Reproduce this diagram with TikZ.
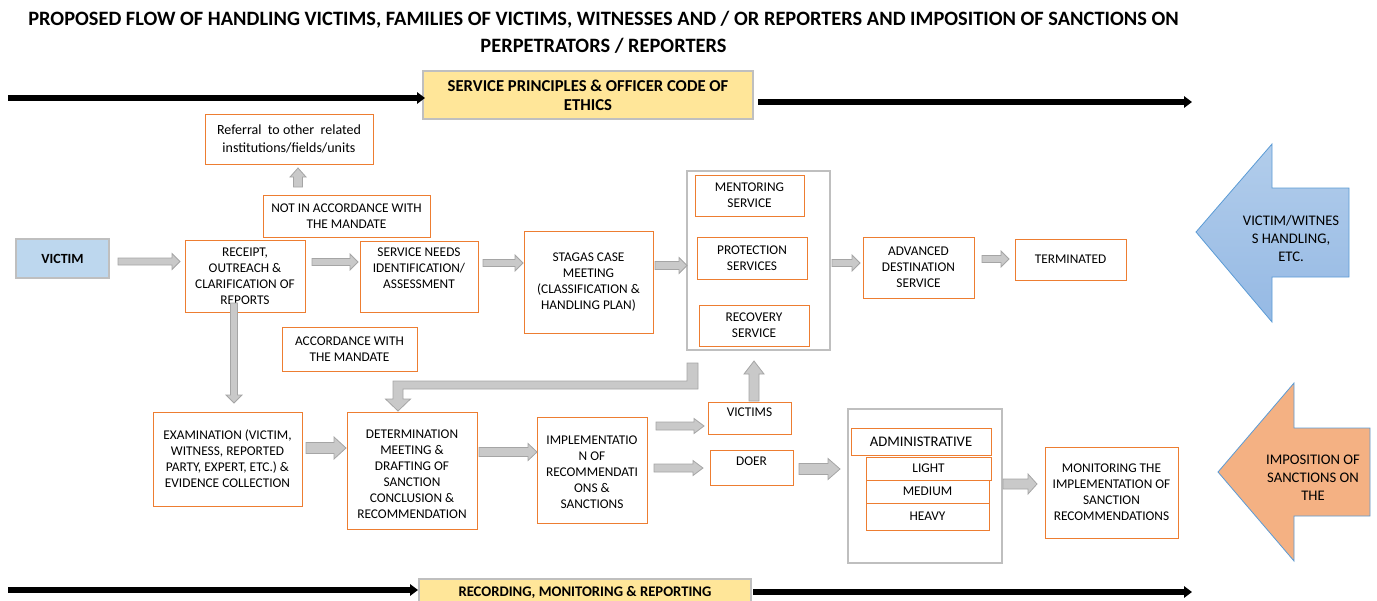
\documentclass[tikz,border=0pt]{standalone}
\usepackage{fontspec}
\setmainfont{Carlito}
\usetikzlibrary{calc,arrows.meta}
\definecolor{obord}{HTML}{ED7D31}
\definecolor{gbord}{HTML}{BFBFBF}
\definecolor{yfill}{HTML}{FFE699}
\definecolor{bfill}{HTML}{BDD7EE}
\definecolor{afill}{HTML}{C9C9C9}
\definecolor{aline}{HTML}{A5A5A5}
\definecolor{bbtop}{HTML}{B2CDEB}
\definecolor{bbbot}{HTML}{95B9E4}
\definecolor{bbline}{HTML}{5B9BD5}
\definecolor{bigorange}{HTML}{F4B183}
\newcommand\mvup[2]{\raisebox{0pt}[\height][\dimexpr\depth+#1\relax]{\begin{tabular}{@{}c@{}}#2\end{tabular}}}
\newcommand\mvdn[2]{\raisebox{0pt}[\dimexpr\height+#1\relax][\depth]{\begin{tabular}{@{}c@{}}#2\end{tabular}}}
\newcommand\bx[7][]{%
  \node[#1, minimum width={(#5-#3)*0.75pt}, minimum height={(#6-#4)*0.75pt}] (#2) at ({(#3+#5)/2},{(#4+#6)/2}) {#7};}
\newcommand\blk[5]{%
  \coordinate (bkA) at (#1);
  \coordinate (bkB) at (#2);
  \coordinate (bkC) at ($(bkB)!#5*0.75pt!(bkA)$);
  \draw[blockarrow] ($(bkA)!#3*0.75pt!90:(bkB)$) -- ($(bkC)!#3*0.75pt!-90:(bkA)$) -- ($(bkC)!#4*0.75pt!-90:(bkA)$) -- (bkB) -- ($(bkC)!#4*0.75pt!90:(bkA)$) -- ($(bkC)!#3*0.75pt!90:(bkA)$) -- ($(bkA)!#3*0.75pt!-90:(bkB)$) -- cycle;}
\tikzset{
  ob/.style={draw=obord, line width=0.65pt, fill=white, align=center, inner sep=1pt, outer sep=0pt, font=\fontsize{10}{12}\selectfont},
  gb/.style={draw=gbord, line width=2pt, inner sep=0pt, outer sep=0pt},
  yb/.style={draw=gbord, line width=0.8pt, fill=yfill, align=center, inner sep=1pt, outer sep=0pt, font=\bfseries\fontsize{11}{14.5}\selectfont},
  vb/.style={draw=gbord, line width=0.8pt, fill=bfill, inner sep=1pt, outer sep=0pt, font=\bfseries\fontsize{10.5}{12}\selectfont},
  blockarrow/.style={draw=aline, fill=afill, line width=0.6pt},
  bigline/.style={line width=4.4pt, -{Triangle[length=6pt,width=8.5pt]}},
  bigtxt/.style={align=center, inner sep=0pt, font=\fontsize{11}{13.5}\selectfont},
  titletxt/.style={align=center, inner sep=0pt, font=\bfseries\fontsize{15.3}{20.25}\selectfont}
}
\begin{document}
\begin{tikzpicture}[x=0.75pt,y=-0.75pt]
\useasboundingbox (0,0) rectangle (1377,600);
% title
\node[titletxt] (title) at (603.5,32.5) {PROPOSED FLOW OF HANDLING VICTIMS, FAMILIES OF VICTIMS, WITNESSES AND / OR REPORTERS AND IMPOSITION OF SANCTIONS ON\\PERPETRATORS / REPORTERS};
% yellow bands
\bx[yb, font=\bfseries\fontsize{12.5}{14.5}\selectfont]{sp}{423}{71}{753}{119}{SERVICE PRINCIPLES \& OFFICER CODE OF\\ETHICS}
\bx[yb]{rmr}{419}{579}{751}{605}{RECORDING, MONITORING \& REPORTING}
\coordinate (tl) at (8,98);
\coordinate (tr) at (1192,102);
\coordinate (bl) at (8,590);
\coordinate (br) at (1192,592);
\draw[bigline] (tl) -- ($(sp.west)+(2,3)$);
\draw[bigline] ($(sp.east)+(5,7)$) -- (tr);
\draw[bigline] (bl) -- ($(rmr.west)+(-1,-2)$);
\draw[bigline] ($(rmr.east)+(2,0)$) -- (br);
% upper row
\bx[vb]{victim}{16}{239}{109}{278}{VICTIM}
\bx[ob]{receipt}{185}{240}{305}{312}{RECEIPT,\\OUTREACH \&\\CLARIFICATION OF\\REPORTS}
\bx[ob]{svc}{360}{241}{478}{312}{\mvup{11pt}{SERVICE NEEDS\\IDENTIFICATION/\\ASSESSMENT}}
\bx[ob]{stagas}{524}{231}{653}{333}{STAGAS CASE\\MEETING\\(CLASSIFICATION \&\\HANDLING PLAN)}
\bx[gb]{services}{687}{171}{830}{350}{}
\bx[ob]{mentor}{695}{175}{804}{216}{MENTORING\\SERVICE}
\bx[ob]{protect}{697}{237}{807}{279}{PROTECTION\\SERVICES}
\bx[ob]{recovery}{699}{305}{809}{346}{RECOVERY\\SERVICE}
\bx[ob]{adv}{863}{237}{974}{298}{ADVANCED\\DESTINATION\\SERVICE}
\bx[ob]{term}{1015}{239}{1126}{280}{TERMINATED}
\bx[ob, font=\fontsize{10.5}{13.5}\selectfont]{referral}{205}{114}{373}{164}{Referral\ \ to other\ \ related\\institutions/fields/units}
\bx[ob]{notacc}{263}{195}{430}{237}{NOT IN ACCORDANCE WITH\\THE MANDATE}
\bx[ob]{acc}{282}{327}{417}{371}{ACCORDANCE WITH\\THE MANDATE}
% lower row
\bx[ob]{exam}{153}{412}{302}{506}{EXAMINATION (VICTIM,\\WITNESS, REPORTED\\PARTY, EXPERT, ETC.) \&\\EVIDENCE COLLECTION}
\bx[ob]{det}{347}{412}{477}{529}{\mvdn{7.5pt}{DETERMINATION\\MEETING \&\\DRAFTING OF\\SANCTION\\CONCLUSION \&\\RECOMMENDATION}}
\bx[ob]{impl}{537}{417}{647}{523}{\mvdn{4.5pt}{IMPLEMENTATIO\\N OF\\RECOMMENDATI\\ONS \&\\SANCTIONS}}
\bx[ob]{victims}{708}{402}{791}{434}{\mvup{7.5pt}{VICTIMS}}
\bx[ob]{doer}{710}{450}{793}{485}{\mvup{8pt}{DOER}}
\bx[gb]{sanct}{848}{409}{1002}{563}{}
\bx[ob, font=\fontsize{11}{13}\selectfont]{admin}{851}{428}{991}{455}{ADMINISTRATIVE}
\bx[ob]{light}{866}{457}{991}{480}{LIGHT}
\bx[ob]{medium}{866}{480}{989}{503}{MEDIUM}
\bx[ob]{heavy}{866}{503}{989}{530}{HEAVY}
\bx[ob]{monitor}{1045}{447}{1178}{538}{MONITORING THE\\IMPLEMENTATION OF\\SANCTION\\RECOMMENDATIONS}
% gray block connectors
\blk{$(victim.east)+(9,3)$}{$(receipt.west)+(-5,-14.5)$}{3.5}{8}{8}
\blk{$(receipt.east)+(7,-14)$}{$(svc.west)+(-2,-14.5)$}{3.5}{8}{8}
\blk{$(svc.east)+(5,-13.5)$}{$(stagas.west)+(-1,-19)$}{3.5}{8}{8}
\blk{$(stagas.east)+(2,-16.5)$}{$(services.west)+(0,5)$}{4}{8}{8}
\blk{$(services.east)+(2,2.5)$}{$(adv.west)+(-3,-4.5)$}{3.5}{8}{8}
\blk{$(adv.east)+(8,-8.5)$}{$(term.west)+(-6,-0.5)$}{3.5}{8}{8}
\blk{$(receipt.south)+(-11,-9)$}{$(exam.north)+(6.5,-9)$}{3.5}{8}{8}
\blk{$(exam.east)+(4,-11)$}{$(det.west)+(-1,-22.5)$}{5.5}{11}{12}
\blk{$(det.east)+(2,-18.5)$}{$(impl.west)+(0,-18)$}{4.5}{8.5}{9}
\blk{$(impl.east)+(9,-44)$}{$(victims.west)+(-4,8)$}{4}{7.5}{10}
\blk{$(impl.east)+(7,-2)$}{$(doer.west)+(-7,0.5)$}{4}{7.5}{10}
\blk{$(doer.east)+(6,1.5)$}{$(sanct.west)+(-8,-17)$}{5.5}{10.5}{12}
\blk{$(sanct.east)+(1,-2)$}{$(monitor.west)+(-8,-8.5)$}{5}{10}{9}
\blk{$(victims.north)+(4.5,-1)$}{$(services.south)+(-4.5,11)$}{5}{10}{13}
\blk{$(notacc.north)+(-48.5,-8)$}{$(referral.south)+(9,4)$}{4.5}{8}{9}
% elbow connector services -> determination
\coordinate (e1) at ($(services.south west)+(5.5,13)$);
\coordinate (e4) at ($(det.north)+(-14,-1)$);
\coordinate (e3) at ($(e4)+(0,-26)$);
\coordinate (e2) at (e1 |- e3);
\draw[blockarrow] ($(e1)+(-5.5,0)$) -- ($(e1)+(5.5,0)$) -- ($(e2)+(5.5,4)$) -- ($(e3)+(5,4)$) -- ($(e4)+(5,-12)$) -- ($(e4)+(12.5,-12)$) -- (e4) -- ($(e4)+(-12.5,-12)$) -- ($(e4)+(-5,-12)$) -- ($(e3)+(-5,-4)$) -- ($(e2)+(-5.5,-4)$) -- cycle;
% big side arrows
\draw[draw=bbline, line width=0.6pt, top color=bbtop, bottom color=bbbot] (1196,232) -- (1272,144) -- (1272,188) -- (1349,188) -- (1349,277) -- (1272,277) -- (1272,322) -- cycle;
\node[bigtxt] (vwh) at (1291,238) {VICTIM/WITNES\\S HANDLING,\\ETC.};
\draw[draw=bbline, line width=0.6pt, fill=bigorange] (1218,472) -- (1294,383) -- (1294,428) -- (1370,428) -- (1370,516) -- (1294,516) -- (1294,561) -- cycle;
\node[bigtxt] (ist) at (1313,478) {IMPOSITION OF\\SANCTIONS ON\\THE};
\end{tikzpicture}
\end{document}
